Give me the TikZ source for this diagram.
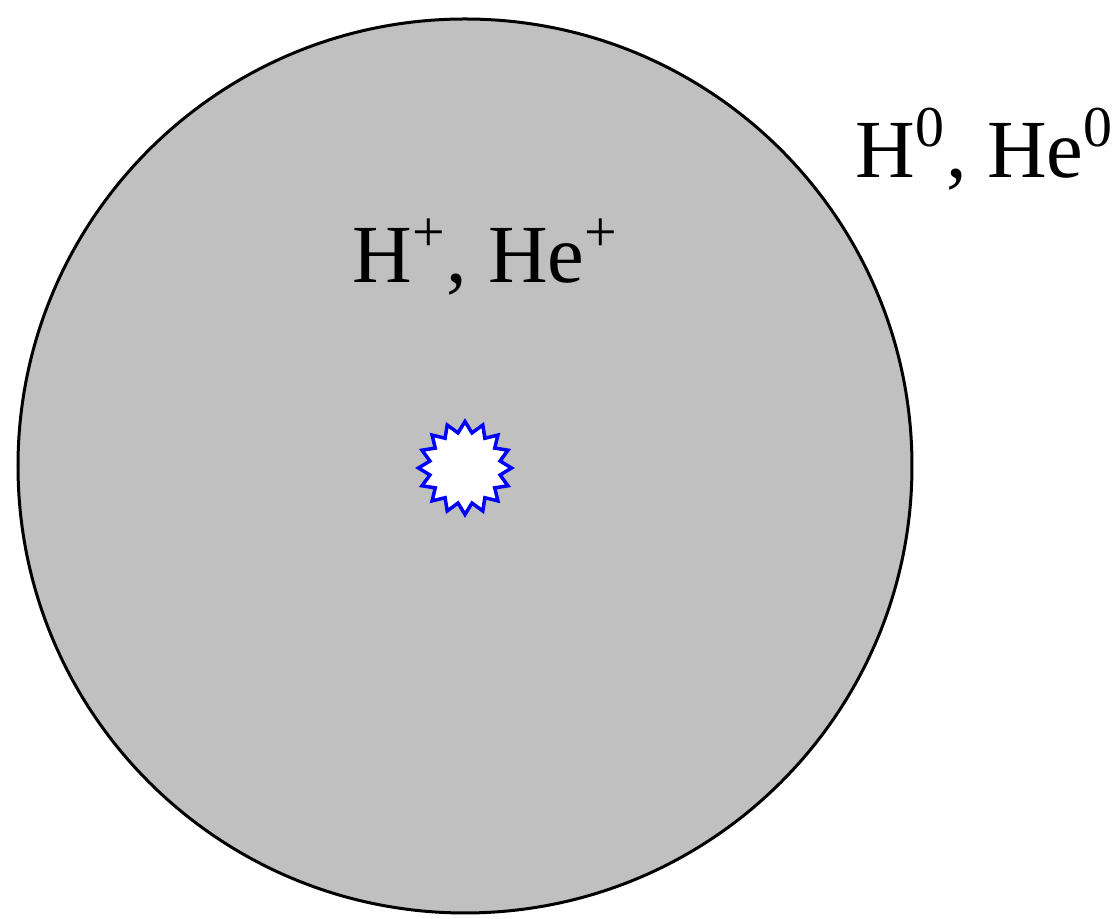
\documentclass[tikz,border=0pt]{standalone}
\usepackage{fontspec}
\setmainfont{Liberation Serif}
\usetikzlibrary{shapes.geometric}
\definecolor{shellgray}{RGB}{192,192,192}

\begin{document}
\begin{tikzpicture}[x=1cm,y=1cm]
  \useasboundingbox (0,0) rectangle (11.13,-9.19);
  \tikzset{ionlabel/.style={anchor=base west,inner sep=0pt,font=\fontsize{23.5}{28}\selectfont}}
  \draw[line width=0.03cm,fill=shellgray] (4.65,-4.66) circle (4.47);
  \node[star,star points=16,star point ratio=1.3,minimum size=0.93cm,inner sep=0pt,draw=blue,fill=white,line width=0.035cm] (star) at (4.65,-4.68) {};
  \node[ionlabel] (inner) at (3.52,-2.83) {H\textsuperscript{+}, He\textsuperscript{+}};
  \node[ionlabel] (outer) at (8.55,-1.78) {H\textsuperscript{0}, He\textsuperscript{0}};
\end{tikzpicture}
\end{document}
